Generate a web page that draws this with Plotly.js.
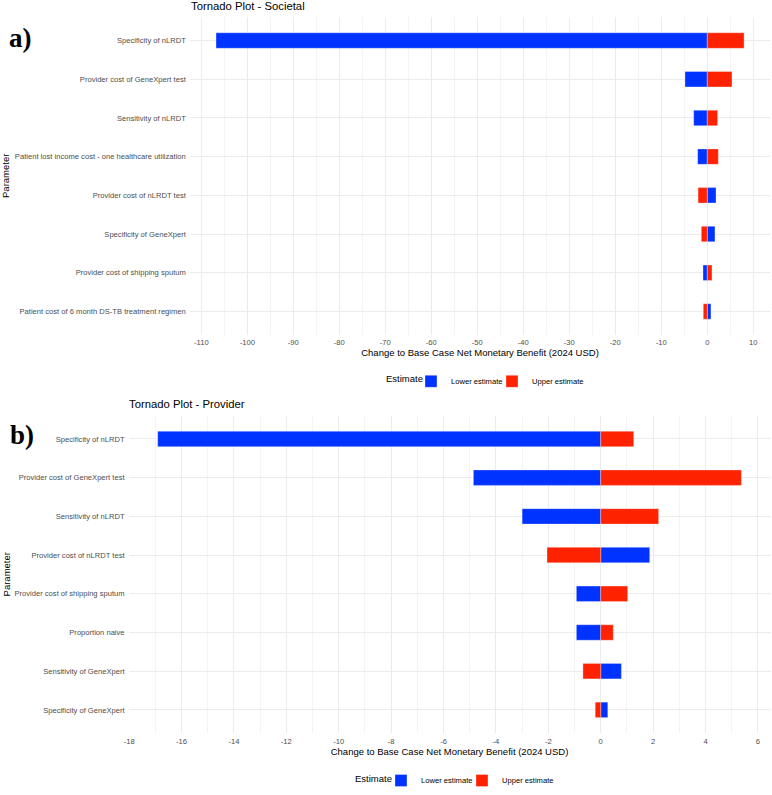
<!DOCTYPE html>
<html>
<head>
<meta charset="utf-8">
<script src="https://cdn.plot.ly/plotly-3.0.1.min.js"></script>
<style>html,body{margin:0;padding:0;background:#fff;overflow:hidden;}#chart{position:absolute;left:0;top:0;}</style>
</head>
<body>
<div id="chart"></div>
<script>
// ---- Data ----
const societalParams = [
  "Specificity of nLRDT",
  "Provider cost of GeneXpert test",
  "Sensitivity of nLRDT",
  "Patient lost income cost - one healthcare utilization",
  "Provider cost of nLRDT test",
  "Specificity of GeneXpert",
  "Provider cost of shipping sputum",
  "Patient cost of 6 month DS-TB treatment regimen"
];
const societalLower = [-106.8, -4.85, -2.96, -2.1, 1.9, 1.67, -0.93, 0.8];
const societalUpper = [8.0, 5.37, 2.25, 2.4, -2.0, -1.3, 1.02, -0.87];

const providerParams = [
  "Specificity of nLRDT",
  "Provider cost of GeneXpert test",
  "Sensitivity of nLRDT",
  "Provider cost of nLRDT test",
  "Provider cost of shipping sputum",
  "Proportion naive",
  "Sensitivity of GeneXpert",
  "Specificity of GeneXpert"
];
const providerLower = [-16.91, -4.86, -3.0, 1.87, -0.93, -0.93, 0.79, 0.27];
const providerUpper = [1.26, 5.37, 2.21, -2.05, 1.03, 0.48, -0.68, -0.21];

const societalTicks = [-110, -100, -90, -80, -70, -60, -50, -40, -30, -20, -10, 0, 10];
const providerTicks = [-18, -16, -14, -12, -10, -8, -6, -4, -2, 0, 2, 4, 6];

// ---- Styling ----
const W = 772, H = 795;
const BLUE = "#0033FF", RED = "#FF2200";
const FONT = "Liberation Sans, Arial, Helvetica, sans-serif";
const TICKCOL = "#4D4D4D";

function px(x) { return x / W; }
function py(y) { return 1 - y / H; }

function barTrace(name, cats, vals, color, xa, ya, legend, lw) {
  const t = {
    type: "bar", orientation: "h", name: name,
    y: cats, x: vals, base: 0, width: 0.4,
    xaxis: xa, yaxis: ya, legend: legend, showlegend: true,
    marker: { color: color, line: { color: "rgba(255,255,255,0.55)", width: 0.6 } },
    hoverinfo: "x+y+name"
  };
  if (lw) t.legendwidth = lw;
  return t;
}

const data = [
  barTrace("Lower estimate", societalParams, societalLower, BLUE, "x", "y", "legend", 36),
  barTrace("Upper estimate", societalParams, societalUpper, RED, "x", "y", "legend"),
  barTrace("Lower estimate", providerParams, providerLower, BLUE, "x2", "y2", "legend2", 36),
  barTrace("Upper estimate", providerParams, providerUpper, RED, "x2", "y2", "legend2")
];

function xAxis(domain, range, ticks, anchor) {
  return {
    domain: domain, range: range, anchor: anchor,
    tickvals: ticks, ticktext: ticks.map(String),
    showgrid: true, gridcolor: "#EBEBEB", gridwidth: 1,
    minor: { dtick: (ticks[1] - ticks[0]) / 2, showgrid: true, gridcolor: "#F4F4F4", gridwidth: 1 },
    zeroline: false, showline: false, ticks: "",
    ticklabelstandoff: 2,
    tickfont: { family: FONT, size: 7.6, color: TICKCOL },
    title: { text: "Change to Base Case Net Monetary Benefit (2024 USD)", font: { family: FONT, size: 9.5, color: "#000" }, standoff: 2 },
    automargin: false, fixedrange: true
  };
}
function yAxis(domain, cats, anchor) {
  return {
    domain: domain, anchor: anchor, type: "category",
    categoryorder: "array", categoryarray: cats,
    range: [cats.length - 0.4, -0.6],
    showgrid: true, gridcolor: "#EBEBEB", gridwidth: 1,
    zeroline: false, showline: false, ticks: "",
    ticklabelstandoff: 3,
    tickfont: { family: FONT, size: 7.6, color: TICKCOL },
    automargin: false, fixedrange: true
  };
}
function legendBox(xLeft, yTop) {
  return {
    orientation: "h", x: px(xLeft), xanchor: "left", y: py(yTop), yanchor: "top",
    font: { family: FONT, size: 7.6, color: "#000" },
    borderwidth: 0, bgcolor: "rgba(0,0,0,0)", traceorder: "normal",
    itemclick: false, itemdoubleclick: false
  };
}
function note(text, x, y, size, extra) {
  return Object.assign({ text: text, xref: "paper", yref: "paper", x: px(x), y: py(y),
    xanchor: "left", yanchor: "middle", showarrow: false,
    font: { family: FONT, size: size, color: "#000" } }, extra || {});
}

const layout = {
  width: W, height: H,
  margin: { l: 0, r: 0, t: 0, b: 0 },
  paper_bgcolor: "#fff", plot_bgcolor: "#fff",
  font: { family: FONT },
  barmode: "overlay",
  xaxis: xAxis([px(189.8), px(770.3)], [-112.5, 13.7], societalTicks, "y"),
  yaxis: yAxis([py(338.5), py(17.5)], societalParams, "x"),
  xaxis2: xAxis([px(128.6), px(770.5)], [-18.02, 6.48], providerTicks, "y2"),
  yaxis2: yAxis([py(741.5), py(420.5)], providerParams, "x2"),
  legend: legendBox(411, 371),
  legend2: legendBox(381, 775),
  annotations: [
    note("Tornado Plot - Societal", 189, 6, 11.3),
    note("Tornado Plot - Provider", 127, 409, 11.3),
    note("Parameter", 6, 178, 9.5, { xanchor: "center", textangle: -90 }),
    note("Parameter", 6, 581, 9.5, { xanchor: "center", textangle: -90 }),
    note("Estimate", 384, 383, 9.5),
    note("Estimate", 353, 787, 9.5),
    note("<b>a)</b>", 7, 38, 27, { font: { family: "Liberation Serif, Times New Roman, serif", size: 27, color: "#000" } }),
    note("<b>b)</b>", 8, 440, 27, { font: { family: "Liberation Serif, Times New Roman, serif", size: 27, color: "#000" } })
  ]
};

Plotly.newPlot("chart", data, layout, { displayModeBar: false, staticPlot: true });
</script>
</body>
</html>
